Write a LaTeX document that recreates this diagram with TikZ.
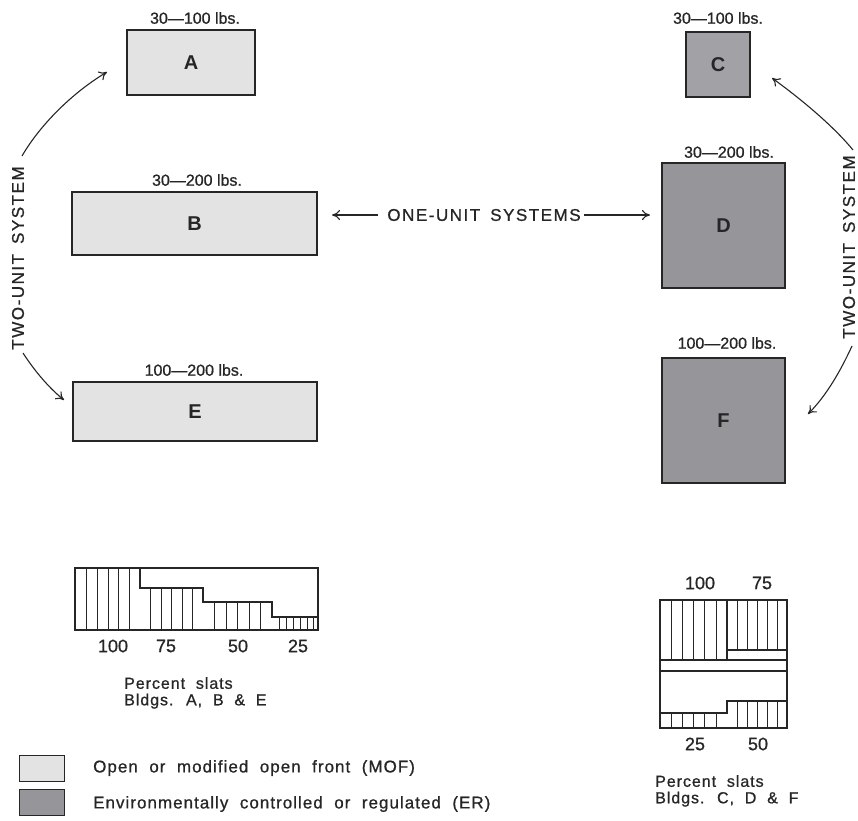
\documentclass[tikz,border=0pt]{standalone}
\usepackage{fontspec}
\setmainfont{Liberation Sans}
\newfontfamily\lblfont[FakeBold=0.9]{Liberation Sans}
\newfontfamily\capfont[FakeBold=0.8,LetterSpace=6,WordSpace=2]{Liberation Sans}
\newfontfamily\sysfont[FakeBold=0.8,LetterSpace=9,WordSpace=1.6]{Liberation Sans}
\usetikzlibrary{arrows.meta}
\definecolor{mofc}{HTML}{E3E3E3}
\definecolor{erc}{HTML}{96969A}
\definecolor{erlight}{HTML}{A2A2A6}
\definecolor{inkc}{HTML}{262626}
\begin{document}
\begin{tikzpicture}[x=1pt,y=-1pt,
  every node/.style={text=inkc},
  bldg/.style={draw=inkc,line width=1.3pt,inner sep=0pt,font=\fontsize{20}{20}\selectfont\bfseries},
  mof/.style={bldg,fill=mofc},
  er/.style={bldg,fill=erc},
  wt/.style={font=\lblfont\fontsize{16}{16}\selectfont,inner sep=0pt},
  sys/.style={font=\sysfont\fontsize{17}{17}\selectfont,inner sep=0pt},
  num/.style={font=\lblfont\fontsize{18}{18}\selectfont,inner sep=0pt},
  captxt/.style={font=\capfont\fontsize{16}{16.5}\selectfont,inner sep=0pt,anchor=north west,align=left},
  legtxt/.style={font=\capfont\fontsize{17}{17}\selectfont,inner sep=0pt,anchor=west},
  conn/.style={draw=inkc,line width=1.1pt,-{To[length=8pt,width=10pt]}},
  hline/.style={draw=inkc,line width=1.1pt},
  hatch/.style={draw=inkc,line width=1pt}]
\useasboundingbox (0,0) rectangle (858,820);

% ---- buildings
\node[mof,minimum width=128pt,minimum height=65pt] (A) at (191,62.5) {A};
\node[mof,minimum width=245pt,minimum height=63pt] (B) at (194.5,223.5) {B};
\node[mof,minimum width=244pt,minimum height=59pt] (E) at (195,411.5) {E};
\node[bldg,fill=erlight,minimum width=64pt,minimum height=65pt] (C) at (718,64.5) {C};
\node[er,minimum width=123pt,minimum height=125pt] (D) at (723.5,225.5) {D};
\node[er,minimum width=123pt,minimum height=125pt] (F) at (723.5,420.5) {F};

\node[wt] (wA) at (195,18) {30—100 lbs.};
\node[wt] (wB) at (197,180) {30—200 lbs.};
\node[wt] (wE) at (194,370) {100—200 lbs.};
\node[wt] (wC) at (718,18) {30—100 lbs.};
\node[wt] (wD) at (729,152) {30—200 lbs.};
\node[wt] (wF) at (727,343) {100—200 lbs.};

% ---- one-unit systems
\node[sys] (one) at (484,215) {ONE-UNIT SYSTEMS};
\coordinate (oneL) at (332,215);
\coordinate (oneR) at (650,215);
\draw[conn] (one.west) ++(-9,0) -- (oneL);
\draw[conn] (one.east) ++(3,0) -- (oneR);

% ---- two-unit systems
\node[sys,rotate=90] (twoL) at (18,258) {TWO-UNIT SYSTEM};
\node[sys,rotate=90] (twoR) at (849,247) {TWO-UNIT SYSTEM};
\coordinate (tLa) at (22,156);
\coordinate (tLb) at (107,72);
\coordinate (bLa) at (23,353);
\coordinate (bLb) at (64,400);
\coordinate (tRa) at (853,150);
\coordinate (tRb) at (772,78);
\coordinate (bRa) at (852,346);
\coordinate (bRb) at (808,414);
\draw[conn] (tLa) .. controls (40,125) and (72,93) .. (tLb);
\draw[conn] (bLa) .. controls (34,370) and (48,387) .. (bLb);
\draw[conn] (tRa) .. controls (835,128) and (805,102) .. (tRb);
\draw[conn] (bRa) .. controls (840,372) and (826,396) .. (bRb);

% ---- left slat chart
\draw[hline] (75,568) rectangle (318,630);
\draw[hline] (140,568) -- (140,588) -- (203,588) -- (203,602) -- (272,602) -- (272,617) -- (318,617);
\foreach \x in {86,97,108,118.5,129}{\draw[hatch] (\x,568) -- (\x,630);}
\foreach \x in {150.5,161,171.5,182,192.5}{\draw[hatch] (\x,588) -- (\x,630);}
\foreach \x in {214.5,226,237.5,249,260.5}{\draw[hatch] (\x,602) -- (\x,630);}
\foreach \x in {279,286,293,300,307,313}{\draw[hatch] (\x,617) -- (\x,630);}
\node[num] (l100) at (113,646) {100};
\node[num] (l75) at (166,646) {75};
\node[num] (l50) at (238,646) {50};
\node[num] (l25) at (298,646) {25};
\node[captxt] (capL) at (124,677) {Percent slats\\Bldgs. A, B \& E};

% ---- right slat chart
\draw[hline] (660,600) rectangle (787,728);
\draw[hline] (660,660) -- (787,660);
\draw[hline] (660,671) -- (787,671);
\draw[hline] (727,600) -- (727,660);
\draw[hline] (727,650) -- (787,650);
\foreach \x in {671,682,693,704,716}{\draw[hatch] (\x,600) -- (\x,660);}
\foreach \x in {737,747,757,767,777}{\draw[hatch] (\x,600) -- (\x,650);}
\draw[hline] (660,713) -- (727,713) -- (727,701) -- (787,701);
\foreach \x in {671,682,693,704,716}{\draw[hatch] (\x,713) -- (\x,728);}
\foreach \x in {737,747,757,767,777}{\draw[hatch] (\x,701) -- (\x,728);}
\node[num] (r100) at (700,583) {100};
\node[num] (r75) at (762,583) {75};
\node[num] (r25) at (695,744) {25};
\node[num] (r50) at (758,744) {50};
\node[captxt] (capR) at (655,775) {Percent slats\\Bldgs. C, D \& F};

% ---- legend
\node[draw=inkc,line width=1pt,fill=mofc,minimum width=45pt,minimum height=26pt,inner sep=0pt] (legM) at (41.5,768) {};
\node[draw=inkc,line width=1pt,fill=erc,minimum width=45pt,minimum height=26pt,inner sep=0pt] (legE) at (41.5,802) {};
\node[legtxt] (tM) at (93,768) {Open or modified open front (MOF)};
\node[legtxt] (tE) at (93,804) {Environmentally controlled or regulated (ER)};
\end{tikzpicture}
\end{document}
